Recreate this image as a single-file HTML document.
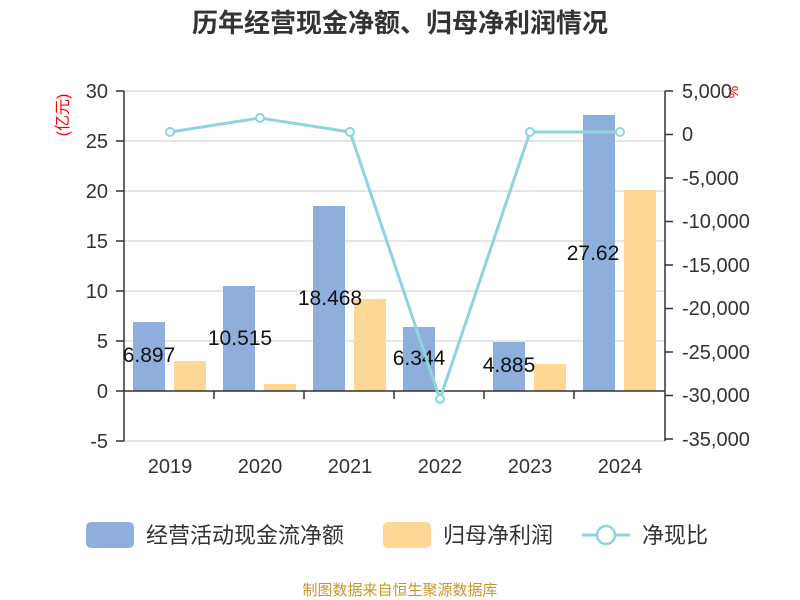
<!DOCTYPE html>
<html><head><meta charset="utf-8"><style>body{margin:0;background:#fff}svg{display:block}</style></head>
<body>
<svg width="800" height="600" xmlns="http://www.w3.org/2000/svg" font-family="Liberation Sans, Noto Sans CJK SC, sans-serif">
<text x="400" y="32" text-anchor="middle" font-size="26" font-weight="bold" fill="#333">历年经营现金净额、归母净利润情况</text>
<g stroke="#ccc" stroke-width="1">
<line x1="124" y1="91" x2="665" y2="91"/><line x1="124" y1="141" x2="665" y2="141"/><line x1="124" y1="191" x2="665" y2="191"/><line x1="124" y1="241" x2="665" y2="241"/><line x1="124" y1="291" x2="665" y2="291"/><line x1="124" y1="341" x2="665" y2="341"/><line x1="124" y1="441" x2="665" y2="441"/>
</g>
<g fill="#8eaedb">
<rect x="133" y="322" width="32" height="69"/><rect x="223" y="286" width="32" height="105"/><rect x="313" y="206" width="32" height="185"/><rect x="403" y="327" width="32" height="64"/><rect x="493" y="342" width="32" height="49"/><rect x="583" y="115" width="32" height="276"/>
</g>
<g fill="#fed795">
<rect x="174" y="361" width="32" height="30"/><rect x="264" y="384" width="32" height="7"/><rect x="354" y="299" width="32" height="92"/><rect x="534" y="364" width="32" height="27"/><rect x="624" y="190" width="32" height="201"/>
</g>
<g stroke="#333" stroke-width="1.5" fill="none">
<line x1="124" y1="91" x2="124" y2="441"/><line x1="665" y1="91" x2="665" y2="441"/>
<line x1="124" y1="391" x2="665" y2="391"/>
<path d="M116 91H124M116 141H124M116 191H124M116 241H124M116 291H124M116 341H124M116 391H124M116 441H124"/>
<path d="M665 91H673M665 134.5H673M665 178H673M665 221.5H673M665 265H673M665 308.5H673M665 352H673M665 395.5H673M665 439H673"/>
<path d="M214 391V399M304 391V399M394 391V399M484 391V399M574 391V399"/>
</g>
<g font-size="20" fill="#333" text-anchor="end">
<text x="108" y="98">30</text><text x="108" y="148">25</text><text x="108" y="198">20</text><text x="108" y="248">15</text><text x="108" y="298">10</text><text x="108" y="348">5</text><text x="108" y="398">0</text><text x="108" y="448">-5</text>
</g>
<g font-size="20" fill="#333">
<text x="682" y="98">5,000</text><text x="682" y="141">0</text><text x="682" y="185">-5,000</text><text x="682" y="228">-10,000</text><text x="682" y="272">-15,000</text><text x="682" y="315">-20,000</text><text x="682" y="359">-25,000</text><text x="682" y="402">-30,000</text><text x="682" y="446">-35,000</text>
</g>
<text transform="translate(68,115) rotate(-90)" text-anchor="middle" font-size="16" fill="#f00">(亿元)</text>
<text transform="translate(738,92) rotate(-90)" text-anchor="middle" font-size="14" fill="#f00">%</text>
<g font-size="20" fill="#333" text-anchor="middle">
<text x="170" y="473">2019</text><text x="260" y="473">2020</text><text x="350" y="473">2021</text><text x="440" y="473">2022</text><text x="530" y="473">2023</text><text x="620" y="473">2024</text>
</g>
<g font-size="21" fill="#111" text-anchor="middle">
<text x="149" y="362">6.897</text><text x="240" y="345">10.515</text><text x="330" y="305">18.468</text><text x="419" y="365">6.344</text><text x="509" y="372">4.885</text><text x="593" y="260">27.62</text>
</g>
<polyline points="170,132 260,118 350,132 440,399 530,132 620,132" fill="none" stroke="#8dd5da" stroke-width="3"/>
<g fill="#fff" stroke="#8dd5da" stroke-width="2">
<circle cx="170" cy="132" r="4"/><circle cx="260" cy="118" r="4"/><circle cx="350" cy="132" r="4"/><circle cx="440" cy="399" r="4"/><circle cx="530" cy="132" r="4"/><circle cx="620" cy="132" r="4"/>
</g>
<rect x="86" y="522" width="48" height="26" rx="5" fill="#8eaedb"/>
<text x="146" y="543" font-size="22" fill="#333">经营活动现金流净额</text>
<rect x="383" y="522" width="48" height="26" rx="5" fill="#fed795"/>
<text x="443" y="543" font-size="22" fill="#333">归母净利润</text>
<line x1="582" y1="535" x2="630" y2="535" stroke="#8dd5da" stroke-width="3"/>
<circle cx="606" cy="535" r="9" fill="#fff" stroke="#8dd5da" stroke-width="2.5"/>
<text x="642" y="543" font-size="22" fill="#333">净现比</text>
<text x="400" y="595" text-anchor="middle" font-size="15" fill="#c8962e">制图数据来自恒生聚源数据库</text>
</svg>
</body></html>
